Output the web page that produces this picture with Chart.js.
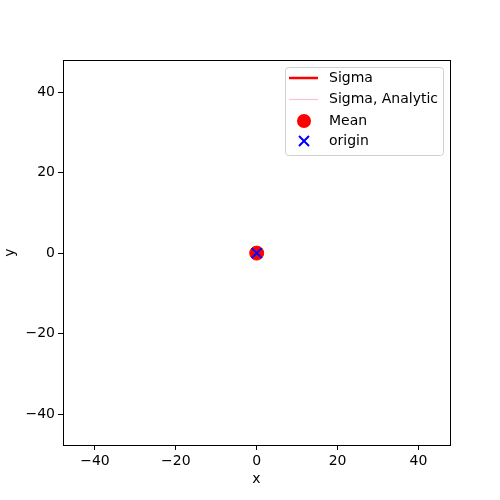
<!DOCTYPE html>
<html>
<head>
<meta charset="utf-8">
<script src="https://cdn.jsdelivr.net/npm/chart.js@4/dist/chart.umd.min.js"></script>
<style>
  html, body { margin: 0; padding: 0; background: #fff; }
  #wrap { width: 500px; height: 500px; }
</style>
</head>
<body>
<div id="wrap"><canvas id="plot" width="500" height="500"></canvas></div>
<script>
// data
const sigmaPts = [{x: 0, y: 0}, {x: 0, y: 0}];
const sigmaAnalyticPts = [{x: 0, y: 0}, {x: 0, y: 0}];
const meanPts = [{x: 0, y: 0}];
const originPts = [{x: 0, y: 0}];
const xMin = -47.9, xMax = 47.8;
const yMin = -47.7, yMax = 48.0;
const tickValues = [-40, -20, 0, 20, 40];

const FONT = "'DejaVu Sans', sans-serif";

// frame round the plot + legend box in the upper right
const framePlugin = {
    id: 'frame',
    afterDraw(chart) {
        const c = chart.ctx;
        const a = chart.chartArea;
        c.save();
        c.strokeStyle = '#000';
        c.lineWidth = 1;
        c.strokeRect(Math.round(a.left) + 0.5, Math.round(a.top) + 0.5,
                     Math.round(a.right - a.left), Math.round(a.bottom - a.top));

        // legend
        const bx = 285.5, by = 67.5, bw = 158, bh = 88;
        c.fillStyle = 'rgba(255,255,255,0.8)';
        c.strokeStyle = '#d0d0d0';
        c.beginPath();
        c.roundRect(bx, by, bw, bh, 3);
        c.fill();
        c.stroke();

        const rows = [78, 99, 121, 141];
        const ds = chart.data.datasets;
        c.font = '14px ' + FONT;
        c.textBaseline = 'middle';
        c.fillStyle = '#000';
        ds.forEach((d, i) => c.fillText(d.label, 329, rows[i]));

        c.strokeStyle = 'red';
        c.lineWidth = 2.5;
        c.beginPath(); c.moveTo(289, rows[0]); c.lineTo(318, rows[0]); c.stroke();

        c.strokeStyle = '#ffc0cb';
        c.lineWidth = 1.2;
        c.beginPath(); c.moveTo(289, rows[1] + 0.5); c.lineTo(318, rows[1] + 0.5); c.stroke();

        c.fillStyle = 'red';
        c.beginPath(); c.arc(304, rows[2], 7, 0, Math.PI * 2); c.fill();

        c.strokeStyle = 'blue';
        c.lineWidth = 2;
        c.beginPath();
        c.moveTo(299, rows[3] - 5); c.lineTo(309, rows[3] + 5);
        c.moveTo(309, rows[3] - 5); c.lineTo(299, rows[3] + 5);
        c.stroke();
        c.restore();
    }
};

const ctx = document.getElementById('plot').getContext('2d');
new Chart(ctx, {
    type: 'scatter',
    data: {
        datasets: [
            {
                label: 'Sigma',
                type: 'line',
                data: sigmaPts,
                borderColor: 'red',
                borderWidth: 2.5,
                pointRadius: 0,
                order: 4
            },
            {
                label: 'Sigma, Analytic',
                type: 'line',
                data: sigmaAnalyticPts,
                borderColor: '#ffc0cb',
                borderWidth: 1,
                pointRadius: 0,
                order: 3
            },
            {
                label: 'Mean',
                data: meanPts,
                backgroundColor: 'red',
                borderColor: 'red',
                pointRadius: 7,
                order: 2
            },
            {
                label: 'origin',
                data: originPts,
                pointStyle: 'cross',
                rotation: 45,
                borderColor: 'blue',
                borderWidth: 2,
                pointRadius: 7,
                order: 1
            }
        ]
    },
    options: {
        responsive: false,
        animation: false,
        layout: { padding: { top: 60, right: 50, left: 0, bottom: 12 } },
        plugins: {
            legend: { display: false },
            tooltip: { enabled: false }
        },
        scales: {
            x: {
                type: 'linear',
                min: xMin,
                max: xMax,
                afterBuildTicks: axis => { axis.ticks = tickValues.map(v => ({ value: v })); },
                afterFit: axis => { axis.height = 43; },
                grid: { drawOnChartArea: false, tickLength: 5, color: '#000' },
                border: { display: false },
                ticks: {
                    color: '#000',
                    font: { family: FONT, size: 14 },
                    padding: 3,
                    maxRotation: 0,
                    callback: v => String(v).replace('-', '\u2212')
                },
                title: {
                    display: true,
                    text: 'x',
                    color: '#000',
                    font: { family: FONT, size: 14 },
                    padding: { top: 0, bottom: 0 }
                }
            },
            y: {
                type: 'linear',
                min: yMin,
                max: yMax,
                afterBuildTicks: axis => { axis.ticks = tickValues.map(v => ({ value: v })); },
                afterFit: axis => { axis.width = 63; },
                grid: { drawOnChartArea: false, tickLength: 5, color: '#000' },
                border: { display: false },
                ticks: {
                    color: '#000',
                    font: { family: FONT, size: 14 },
                    padding: 3,
                    callback: v => String(v).replace('-', '\u2212')
                },
                title: {
                    display: true,
                    text: 'y',
                    color: '#000',
                    font: { family: FONT, size: 14 },
                    padding: { top: 2, bottom: 2 }
                }
            }
        }
    },
    plugins: [framePlugin]
});
</script>
</body>
</html>
